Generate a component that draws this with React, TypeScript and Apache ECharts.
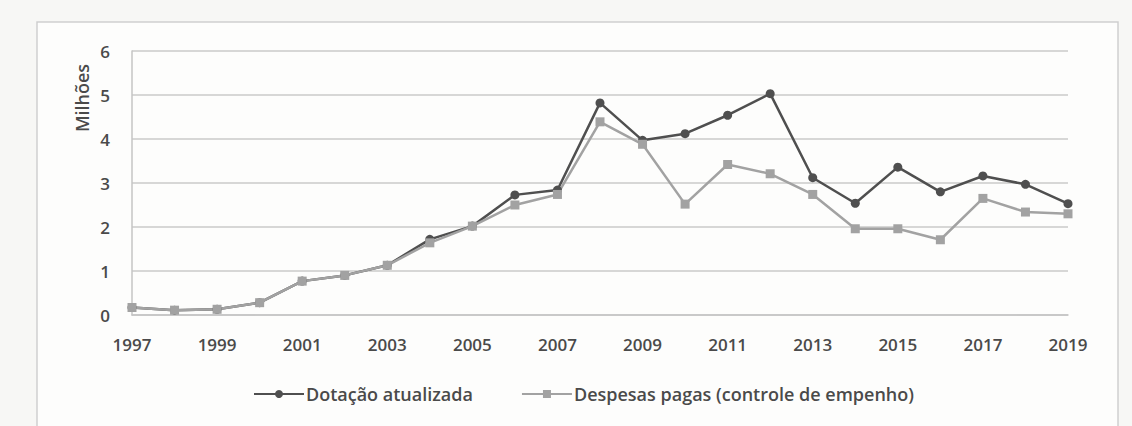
import React, { useEffect, useRef } from "react";
import * as echarts from "echarts";

// Years on the category axis
const years = [
  "1997", "1998", "1999", "2000", "2001", "2002", "2003", "2004", "2005", "2006", "2007", "2008",
  "2009", "2010", "2011", "2012", "2013", "2014", "2015", "2016", "2017", "2018", "2019",
];

// Values in millions
const dotacaoAtualizada = [
  0.17, 0.11, 0.13, 0.28, 0.77, 0.9, 1.13, 1.72, 2.02, 2.73, 2.84, 4.82,
  3.97, 4.12, 4.54, 5.03, 3.12, 2.54, 3.36, 2.8, 3.16, 2.97, 2.53,
];
const despesasPagas = [
  0.17, 0.11, 0.13, 0.28, 0.77, 0.9, 1.13, 1.64, 2.02, 2.5, 2.74, 4.39,
  3.88, 2.52, 3.42, 3.21, 2.74, 1.96, 1.96, 1.71, 2.65, 2.34, 2.3,
];

const yTicks = [0, 1, 2, 3, 4, 5, 6];

const seriesNames = ["Dotação atualizada", "Despesas pagas (controle de empenho)"];

const FONT = "'Open Sans', 'Liberation Sans', sans-serif";
const TEXT = "#4a4a4a";
const DARK = "#4f4f4f";
const LIGHT = "#a2a2a2";

export default function App() {
  const ref = useRef<HTMLDivElement>(null);

  useEffect(() => {
    document.body.style.margin = "0";
    document.body.style.background = "#f7f7f5";
    if (!ref.current) return;
    const chart = echarts.init(ref.current, undefined, { renderer: "svg" });

    chart.setOption({
      animation: false,
      backgroundColor: "#f7f7f5",
      textStyle: { fontFamily: FONT },
      graphic: [
        {
          type: "rect",
          z: -10,
          silent: true,
          shape: { x: 37, y: 22, width: 1081, height: 420 },
          style: { fill: "#fdfdfc", stroke: "#cfcfcf", lineWidth: 1.5 },
        },
        {
          type: "text",
          x: 82,
          y: 98,
          rotation: Math.PI / 2,
          style: {
            text: "Milhões",
            fill: TEXT,
            font: `600 18px ${FONT}`,
            textAlign: "center",
            textVerticalAlign: "middle",
          },
        },
      ],
      grid: { left: 132, right: 64, top: 51, bottom: 111 },
      legend: {
        left: 248,
        top: 380,
        itemWidth: 50,
        itemHeight: 10,
        itemGap: 48,
        textStyle: { color: TEXT, fontSize: 18, fontWeight: 600, fontFamily: FONT, padding: [0, 0, 0, -3] },
        data: seriesNames,
      },
      xAxis: {
        type: "category",
        data: years,
        boundaryGap: false,
        axisLine: { show: true, lineStyle: { color: "#c4c4c4", width: 1.5 } },
        axisTick: { show: false },
        axisLabel: {
          interval: 1,
          color: TEXT,
          fontSize: 17,
          fontWeight: 600,
          margin: 21,
        },
        splitLine: { show: false },
      },
      yAxis: {
        type: "value",
        min: yTicks[0],
        max: yTicks[yTicks.length - 1],
        interval: 1,
        axisLine: { show: true, lineStyle: { color: "#c4c4c4", width: 1.5 } },
        axisTick: { show: false },
        axisLabel: { color: TEXT, fontSize: 17, fontWeight: 600, margin: 22 },
        splitLine: { show: true, lineStyle: { color: "#cacaca", width: 1.5 } },
      },
      series: [
        {
          name: seriesNames[0],
          type: "line",
          data: dotacaoAtualizada,
          symbol: "circle",
          symbolSize: 9,
          lineStyle: { color: DARK, width: 2.5 },
          itemStyle: { color: DARK },
        },
        {
          name: seriesNames[1],
          type: "line",
          data: despesasPagas,
          symbol: "rect",
          symbolSize: 9,
          lineStyle: { color: LIGHT, width: 2.5 },
          itemStyle: { color: LIGHT },
        },
      ],
    });

    return () => chart.dispose();
  }, []);

  return <div ref={ref} style={{ width: 1132, height: 426 }} />;
}
